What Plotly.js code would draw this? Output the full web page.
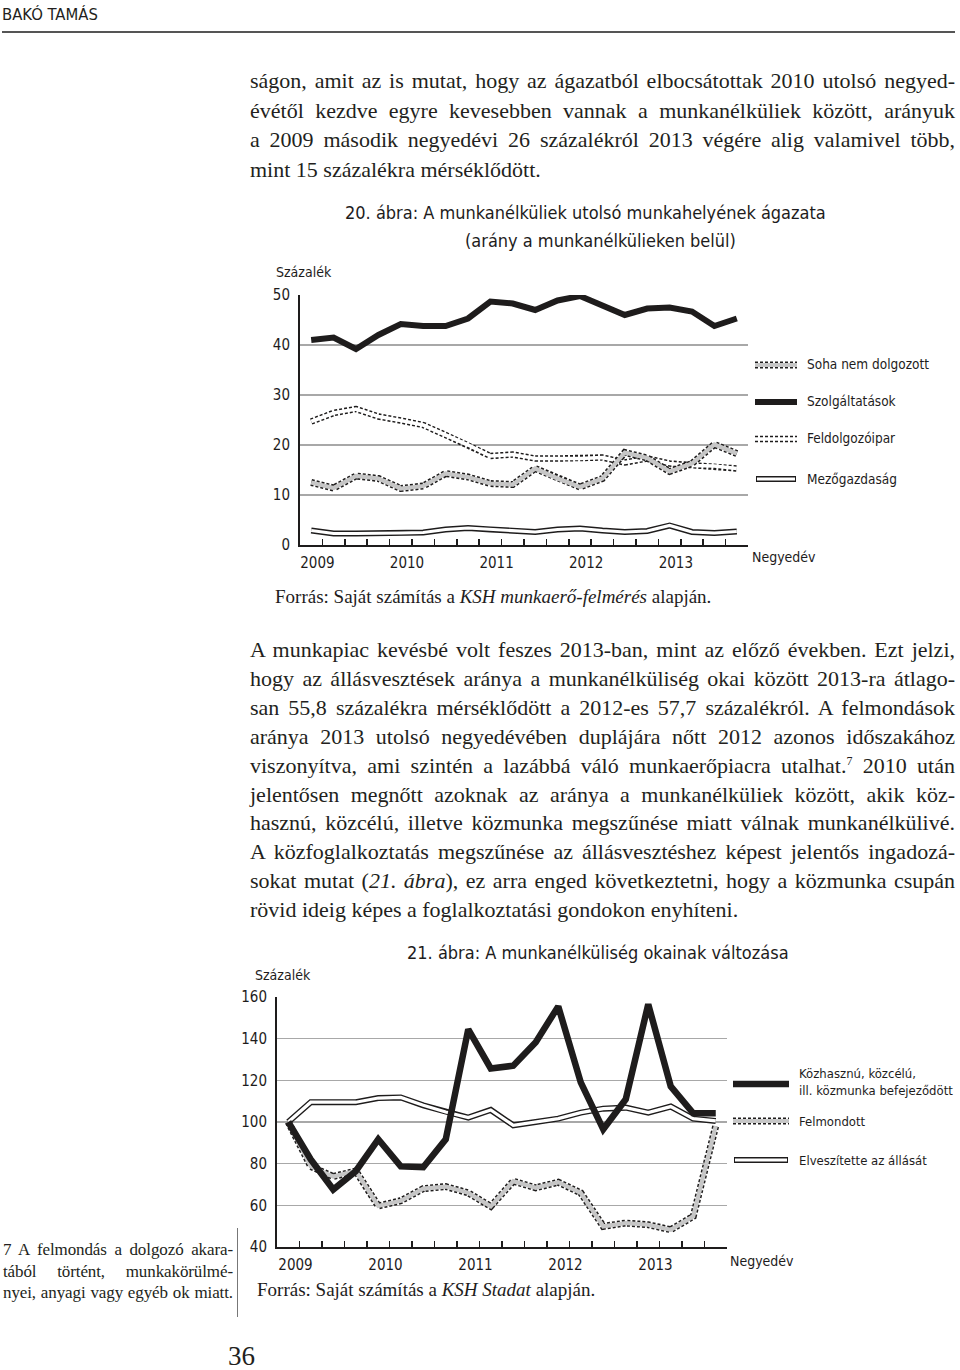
<!DOCTYPE html>
<html><head><meta charset="utf-8">
<script src="https://cdn.plot.ly/plotly-3.0.1.min.js"></script>
<style>
html,body{margin:0;padding:0;background:#fff;}
#page{position:relative;width:960px;height:1370px;overflow:hidden;background:#fff;}
#plot{position:absolute;left:0;top:0;width:960px;height:1370px;}
.serif{position:absolute;font-family:"Liberation Serif","DejaVu Serif",serif;color:#231f20;z-index:2;}
.serif div{white-space:nowrap;text-align:justify;text-align-last:justify;}
.serif div.last{text-align-last:left;}
.cond{position:absolute;font-family:"DejaVu Sans Condensed","Liberation Sans Narrow",sans-serif;color:#231f20;z-index:2;}
.rule{position:absolute;z-index:2;}
sup{font-size:12px;line-height:0;vertical-align:8px;}
</style></head>
<body>
<div id="page">
<div id="plot"></div>
<div class="cond" style="left:2px;top:5px;font-size:16.5px;">BAKÓ TAMÁS</div>
<div class="rule" style="left:2px;top:31px;width:953px;height:2px;background:#555;"></div>

<div class="serif" style="left:250px;top:66px;width:705px;font-size:22px;line-height:29.7px;">
<div>ságon, amit az is mutat, hogy az ágazatból elbocsátottak 2010 utolsó negyed-</div>
<div>évétől kezdve egyre kevesebben vannak a munkanélküliek között, arányuk</div>
<div>a 2009 második negyedévi 26 százalékról 2013 végére alig valamivel több,</div>
<div class="last">mint 15 százalékra mérséklődött.</div>
</div>

<div class="serif" style="left:250px;top:636px;width:705px;font-size:22px;line-height:28.9px;">
<div>A munkapiac kevésbé volt feszes 2013-ban, mint az előző években. Ezt jelzi,</div>
<div>hogy az állásvesztések aránya a munkanélküliség okai között 2013-ra átlago-</div>
<div>san 55,8 százalékra mérséklődött a 2012-es 57,7 százalékról. A felmondások</div>
<div>aránya 2013 utolsó negyedévében duplájára nőtt 2012 azonos időszakához</div>
<div>viszonyítva, ami szintén a lazábbá váló munkaerőpiacra utalhat.<sup>7</sup> 2010 után</div>
<div>jelentősen megnőtt azoknak az aránya a munkanélküliek között, akik köz-</div>
<div>hasznú, közcélú, illetve közmunka megszűnése miatt válnak munkanélkülivé.</div>
<div>A közfoglalkoztatás megszűnése az állásvesztéshez képest jelentős ingadozá-</div>
<div>sokat mutat (<i>21. ábra</i>), ez arra enged következtetni, hogy a közmunka csupán</div>
<div class="last">rövid ideig képes a foglalkoztatási gondokon enyhíteni.</div>
</div>

<div class="serif" style="left:3px;top:1239px;width:230px;font-size:17px;line-height:21.5px;letter-spacing:-0.1px;">
<div>7 A felmondás a dolgozó akara-</div>
<div>tából történt, munkakörülmé-</div>
<div>nyei, anyagi vagy egyéb ok miatt.</div>
</div>
<div class="rule" style="left:237px;top:1228px;width:1px;height:89px;background:#777;"></div>
<div class="serif" style="left:228px;top:1341px;font-size:27px;">36</div>
</div>

<script>
// ---------- DATA ----------
var quarters = ['2009 I.','2009 II.','2009 III.','2009 IV.','2010 I.','2010 II.','2010 III.','2010 IV.',
                '2011 I.','2011 II.','2011 III.','2011 IV.','2012 I.','2012 II.','2012 III.','2012 IV.',
                '2013 I.','2013 II.','2013 III.','2013 IV.'];
var yearLabels = ['2009','2010','2011','2012','2013'];

// 20. ábra (percent)
var sohaNemDolgozott = [12.5,11.4,13.8,13.3,11.3,11.8,14.3,13.6,12.3,12.1,15.3,13.3,11.6,13.3,18.5,17.4,14.7,16.3,20.1,18.3];
var szolgaltatasok   = [41.0,41.5,39.2,42.0,44.2,43.8,43.8,45.3,48.7,48.3,47.0,48.9,49.8,47.8,46.0,47.3,47.5,46.7,43.8,45.3];
var feldolgozoipar   = [24.7,26.4,27.2,25.7,24.9,24.0,22.0,20.0,17.8,18.1,17.3,17.3,17.3,17.5,16.5,17.3,16.3,15.9,15.8,15.3];
var mezogazdasag     = [2.9,2.3,2.3,2.3,2.4,2.5,3.1,3.4,3.1,2.9,2.6,3.1,3.3,2.9,2.6,2.8,3.9,2.6,2.4,2.7];

// 21. ábra (index)
var kozhasznu    = [100,82,67.6,76.4,91.7,78.7,78.3,91.7,144.5,125.7,127.0,138.3,155.5,119.0,96.5,110.9,156.5,117.1,104.2,104.2];
var felmondott   = [100,78.7,73.8,76.5,59.7,62.2,68.0,69.0,66.0,59.5,71.6,68.4,71.1,66.0,49.9,51.5,50.7,48.3,54.7,98.1];
var elveszitette = [100,109.5,109.5,109.5,111.5,111.8,108.0,104.8,102.1,105.8,98.4,100,101.6,104.5,106.4,106.9,104.5,107.4,101.6,100.5];

// ---------- BUILD ----------
var W = 960, H = 1370;
function px(x){ return x / W; }
function py(y){ return 1 - y / H; }
var xIdx = quarters.map(function(_, i){ return i; });
var tickPos = quarters.map(function(_, i){ return i + 0.5; });
var tickTxt = quarters.map(function(_, i){ return (i % 4 === 0) ? yearLabels[i / 4] : ''; });

var INK = '#1e1c1c';
var COND = '"DejaVu Sans Condensed","Liberation Sans Narrow",sans-serif';
var SERIF = '"Liberation Serif","DejaVu Serif",serif';

function line(xa, ya, y, color, width, dash){
  return {type:'scatter', mode:'lines', x:xIdx, y:y, xaxis:xa, yaxis:ya,
          line:{color:color, width:width, dash:dash || 'solid', shape:'linear'},
          hoverinfo:'skip', showlegend:false, cliponaxis:false};
}
function outlined(xa, ya, y, outerW, dash, innerColor, innerW){
  return [line(xa, ya, y, INK, outerW, dash), line(xa, ya, y, innerColor, innerW)];
}

var traces = [];
// chart 20
traces = traces.concat(outlined('x','y', mezogazdasag, 6, 'solid', '#ffffff', 3.2));
traces = traces.concat(outlined('x','y', feldolgozoipar, 6.5, '3px,2px', '#ffffff', 3.6));
traces = traces.concat(outlined('x','y', sohaNemDolgozott, 7, '3px,2px', '#c6c6c6', 4.2));
traces.push(line('x','y', szolgaltatasok, INK, 6));
// chart 21
traces = traces.concat(outlined('x2','y2', elveszitette, 6, 'solid', '#ffffff', 3.2));
traces = traces.concat(outlined('x2','y2', felmondott, 7, '3px,2px', '#c6c6c6', 4.2));
traces.push(line('x2','y2', kozhasznu, INK, 6.5));

function xaxisDef(domain, anchor, shift){
  return {domain:domain, anchor:anchor, range:[-0.5,19.5], tickmode:'array', tickvals:tickPos, ticktext:tickTxt,
          ticks:'inside', ticklen:6, tickwidth:1.5, tickcolor:INK, showline:true, linecolor:INK, linewidth:2,
          showgrid:false, zeroline:false, ticklabelshift:shift, ticklabelstandoff:3,
          tickfont:{family:COND, size:15, color:INK}, fixedrange:true};
}
function yaxisDef(domain, anchor, range, dtick){
  return {domain:domain, anchor:anchor, range:range, tick0:range[0], dtick:dtick, ticks:'',
          showline:true, linecolor:INK, linewidth:2, showgrid:true, gridcolor:'#a8a8a8', gridwidth:1.3,
          zeroline:false, ticklabelstandoff:5, tickfont:{family:COND, size:15, color:INK}, fixedrange:true};
}

var ann = [];
function txt(x, y, text, size, xanchor, fam, extra){
  var a = {xref:'paper', yref:'paper', x:px(x), y:py(y), text:text, showarrow:false,
           xanchor:xanchor || 'left', yanchor:'middle',
           font:{family:fam || COND, size:size, color:INK}};
  if (extra) for (var k in extra) a[k] = extra[k];
  ann.push(a);
}
// chart 20 texts
txt(585, 213, '20. ábra: A munkanélküliek utolsó munkahelyének ágazata', 18, 'center', COND);
txt(600, 241, '(arány a munkanélkülieken belül)', 18, 'center', COND);
txt(274, 272, 'Százalék', 14);
txt(750, 557, 'Negyedév', 14);
txt(273, 596, 'Forrás: Saját számítás a <i>KSH munkaerő-felmérés</i> alapján.', 19, 'left', SERIF);
var leg20 = ['Soha nem dolgozott','Szolgáltatások','Feldolgozóipar','Mezőgazdaság'];
var leg20y = [364, 401, 438, 479];
leg20.forEach(function(t, i){ txt(805, leg20y[i], t, 13.5); });
// chart 21 texts
txt(598, 952, '21. ábra: A munkanélküliség okainak változása', 18, 'center', COND);
txt(253, 975, 'Százalék', 14);
txt(728, 1261, 'Negyedév', 14);
txt(255, 1289, 'Forrás: Saját számítás a <i>KSH Stadat</i> alapján.', 19, 'left', SERIF);
var leg21 = ['Közhasznú, közcélú,<br>ill. közmunka befejeződött','Felmondott','Elveszítette az állását'];
var leg21y = [1082, 1121, 1160];
leg21.forEach(function(t, i){ txt(797, leg21y[i], t, 13, 'left', COND, {align:'left'}); });

// legend swatches
var shapes = [];
function sw(x0, x1, y, color, w, dash){
  shapes.push({type:'line', xref:'paper', yref:'paper', x0:px(x0), x1:px(x1), y0:py(y), y1:py(y),
               line:{color:color, width:w, dash:dash || 'solid'}});
}
sw(755, 797, 365, INK, 7, '3px,2px'); sw(755, 797, 365, '#c6c6c6', 4.2);
sw(755, 797, 402, INK, 6);
sw(755, 797, 439, INK, 6.5, '3px,2px'); sw(755, 797, 439, '#ffffff', 3.6);
sw(756, 796, 479, INK, 6); sw(757, 795, 479, '#ffffff', 3.2);
sw(733, 789, 1084, INK, 6.5);
sw(733, 789, 1121, INK, 7, '3px,2px'); sw(733, 789, 1121, '#c6c6c6', 4.2);
sw(734, 788, 1160, INK, 6); sw(735, 787, 1160, '#ffffff', 3.2);

var layout = {
  width:W, height:H, margin:{l:0,r:0,t:0,b:0}, paper_bgcolor:'#ffffff', plot_bgcolor:'rgba(0,0,0,0)',
  showlegend:false,
  xaxis: xaxisDef([px(300), px(748)], 'y', -5),
  yaxis: yaxisDef([py(545), py(295)], 'x', [0,50], 10),
  xaxis2: xaxisDef([px(277), px(727)], 'y2', -4),
  yaxis2: yaxisDef([py(1247), py(997)], 'x2', [40,160], 20),
  annotations: ann, shapes: shapes
};
Plotly.newPlot('plot', traces, layout, {staticPlot:true, displayModeBar:false});
</script>
</body></html>
